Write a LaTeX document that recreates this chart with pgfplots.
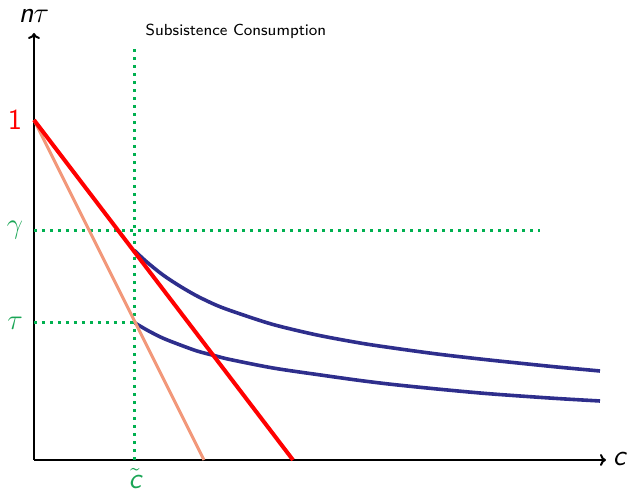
\documentclass[border=0pt]{standalone}
\usepackage{pgfplots}
\pgfplotsset{compat=1.18}
\usetikzlibrary{arrows.meta}
\definecolor{salmon}{RGB}{242,152,122}
\definecolor{navy}{RGB}{46,46,140}
\definecolor{dgreen}{RGB}{0,176,80}
\definecolor{lgreen}{RGB}{25,165,85}
\begin{document}
\begin{tikzpicture}
\begin{axis}[
  x=0.5pt, y=0.5pt,
  xmin=0, xmax=572, ymin=0, ymax=427,
  axis x line=bottom, axis y line=left,
  axis line style={line width=1pt, black, -{To[length=3pt,width=6pt]}},
  ticks=none,
  clip=false,
  dotg/.style={dgreen, line width=1.5pt, dash pattern=on 1.5pt off 2.5pt},
]
\path (axis cs:-34,-32) rectangle (axis cs:594,460);
\addplot[dotg] coordinates {(101,0) (101,412)};
\addplot[dotg] coordinates {(0,229) (506,229)};
\addplot[dotg] coordinates {(0,137) (101,137)};
\addplot[navy, line width=1.8pt, smooth, tension=0.5] coordinates {(101,209) (108,202.3) (116,195.3) (129,185) (145,174.4) (163,164) (183,154.5) (202,147.5) (239,135.5) (283,125) (326,117) (359,112) (403,106) (446,101) (479,97.5) (523,93) (566,89)};
\addplot[navy, line width=1.8pt, smooth, tension=0.5] coordinates {(101,137) (108,132.8) (116,128.3) (129,121.8) (145,115.5) (163,109) (180,104.5) (196,100.5) (239,92) (283,85.5) (326,79.5) (359,75.5) (403,71) (446,67) (479,64.5) (523,61.5) (566,59)};
\addplot[salmon, line width=1.5pt] coordinates {(0,340) (170,0)};
\addplot[red, line width=2pt] coordinates {(0,340) (259,0)};
\node[red, inner sep=0pt, font=\fontsize{14.5}{16}\sffamily] at (axis cs:-19,340) {1};
\node[lgreen, inner sep=0pt, font=\fontsize{14.5}{16}\selectfont] at (axis cs:-19,230) {$\gamma$};
\node[lgreen, inner sep=0pt, font=\fontsize{14.5}{16}\selectfont] at (axis cs:-19,137) {$\tau$};
\node[lgreen, inner sep=0pt, font=\fontsize{14.5}{16}\selectfont] at (axis cs:101,-19) {$\tilde{\textsf{\itshape c}}$};
\node[inner sep=0pt, font=\fontsize{14.5}{16}\selectfont] at (axis cs:0,444) {\textsf{\itshape n}$\tau$};
\node[inner sep=0pt, font=\fontsize{14.5}{16}\selectfont] at (axis cs:586,1) {\textsf{\itshape c}};
\node[inner sep=0pt, font=\fontsize{8}{9.6}\sffamily] at (axis cs:202,429) {Subsistence Consumption};
\end{axis}
\end{tikzpicture}
\end{document}
